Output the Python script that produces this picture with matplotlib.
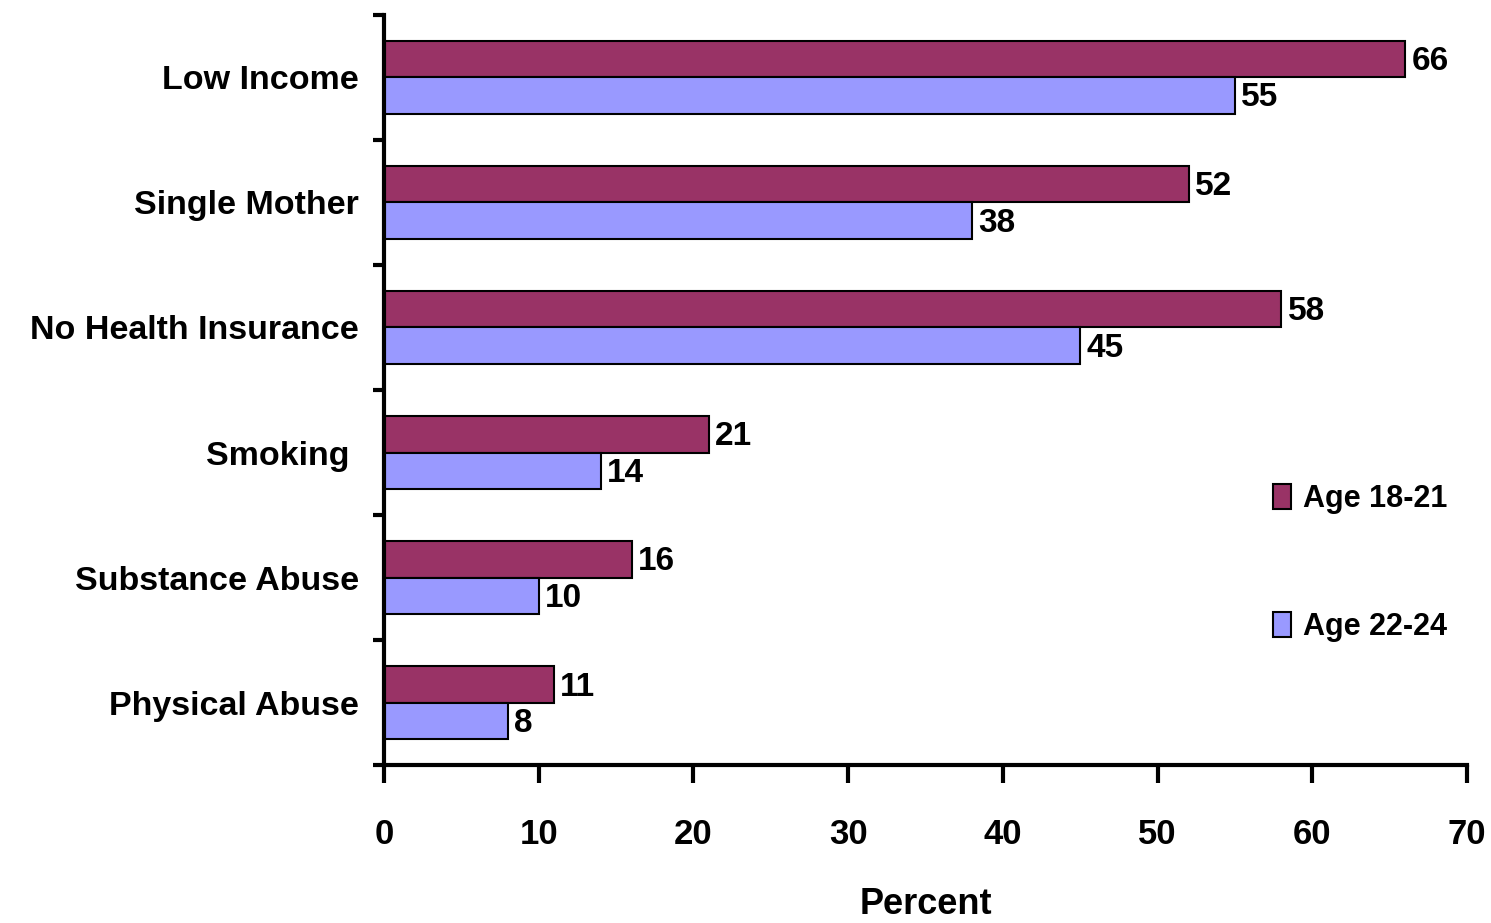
import numpy as np
import matplotlib.pyplot as plt

categories = ['Low Income', 'Single Mother', 'No Health Insurance', 'Smoking ', 'Substance Abuse', 'Physical Abuse']
age_18_21 = [66, 52, 58, 21, 16, 11]
age_22_24 = [55, 38, 45, 14, 10, 8]
series_names = ['Age 18-21', 'Age 22-24']
xticks = [0, 10, 20, 30, 40, 50, 60, 70]

plt.rcParams['font.family'] = ['Liberation Sans', 'DejaVu Sans']
plt.rcParams['font.weight'] = 'bold'

fig = plt.figure(figsize=(14.91, 9.23), dpi=100)
ax = fig.add_axes([0.2575, 0.171, 0.7265, 0.813])

y = np.arange(len(categories))
h = 0.29
b1 = ax.barh(y - h / 2, age_18_21, height=h, color='#993366', edgecolor='black', linewidth=1.5, label=series_names[0])
b2 = ax.barh(y + h / 2, age_22_24, height=h, color='#9999FF', edgecolor='black', linewidth=1.5, label=series_names[1])

for bars, vals in [(b1, age_18_21), (b2, age_22_24)]:
    for bar, v in zip(bars, vals):
        ax.text(v + 0.4, bar.get_y() + bar.get_height() / 2 + 0.02, str(v), va='center', ha='left',
                fontsize=24, fontweight='bold')

ax.set_ylim(len(categories) - 0.5, -0.5)
ax.set_xlim(0, 70)
ax.set_yticks(np.arange(len(categories) + 1) - 0.5)
ax.set_yticklabels([])
ax.set_yticks(y, minor=True)
ax.set_yticklabels(categories, minor=True, fontsize=24.5, fontweight='bold')
ax.tick_params(axis='y', which='minor', length=0, pad=18)
ax.tick_params(axis='y', which='major', length=8, width=3, direction='out')
ax.set_xticks(xticks)
ax.set_xticklabels([str(t) for t in xticks], fontsize=25, fontweight='bold')
ax.tick_params(axis='x', length=13, width=3, direction='out', pad=25)

for s in ['top', 'right']:
    ax.spines[s].set_visible(False)
for s in ['left', 'bottom']:
    ax.spines[s].set_linewidth(3)

ax.set_xlabel('Percent', fontsize=26, fontweight='bold', labelpad=26)

ax.legend(loc='upper left', bbox_to_anchor=(0.795, 0.412), frameon=False, fontsize=22,
          handlelength=0.6, handleheight=0.9, handletextpad=0.4, labelspacing=3.2)

fig.savefig('out.png', dpi=100)
